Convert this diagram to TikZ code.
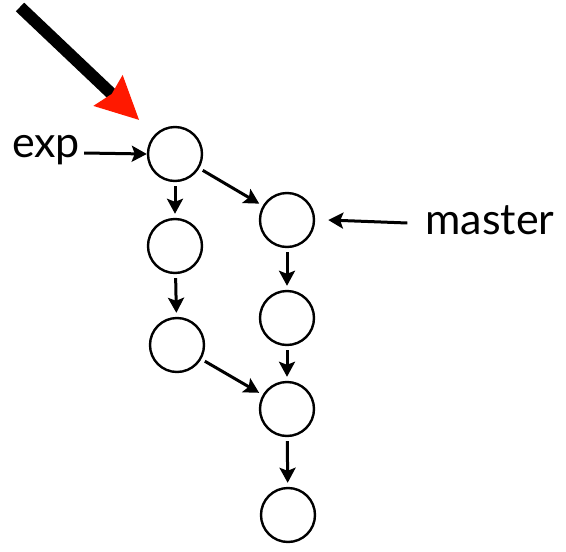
\documentclass[tikz,border=0pt]{standalone}
\usepackage{fontspec}
\setmainfont{Lato}
\usetikzlibrary{arrows.meta}

\begin{document}
\begin{tikzpicture}[
    x=1pt, y=-1pt,
    commit/.style={
        circle, draw=black, line width=2.4pt, minimum size=54pt, inner sep=0pt
    },
    reflabel/.style={
        font=\fontsize{43}{45}\selectfont, inner sep=0pt
    },
    parent/.style={
        -{Stealth[length=15pt, width=16pt, inset=3pt]}, line width=3pt,
        shorten <=4pt, shorten >=4pt
    },
    pointer/.style={
        -{Stealth[length=15pt, width=16pt, inset=3pt]}, line width=3pt
    },
    headarrow/.style={
        -{Stealth[length=42pt, width=40pt, inset=4pt, fill=red!80!orange, color=red!80!orange]},
        line width=12pt, shorten >=21pt
    }
]
\useasboundingbox (0,0) rectangle (566,552);

% Commits
\node[commit] (c1) at (175,154) {};
\node[commit] (c2) at (175,246) {};
\node[commit] (c3) at (177,345) {};
\node[commit] (m1) at (287,220) {};
\node[commit] (m2) at (287,318) {};
\node[commit] (m3) at (287,409) {};
\node[commit] (m4) at (288,515) {};

\draw[parent] (c1) -- (c2);
\draw[parent] (c2) -- (c3);
\draw[parent] (c1) -- (m1);
\draw[parent] (c3) -- (m3);
\draw[parent] (m1) -- (m2);
\draw[parent] (m2) -- (m3);
\draw[parent] (m3) -- (m4);

% Branch labels
\node[reflabel] (exp) at (46,150) {exp};
\node[reflabel] (master) at (490,220) {master};
\draw[pointer] ([xshift=4pt,yshift=-3pt]exp.east) -- (c1.west);
\draw[pointer] ([xshift=-18pt,yshift=-3pt]master.west) -- ([xshift=13pt]m1.east);

% HEAD
\coordinate (head) at (20,7);
\draw[headarrow] (head) -- (c1);

\end{tikzpicture}
\end{document}
